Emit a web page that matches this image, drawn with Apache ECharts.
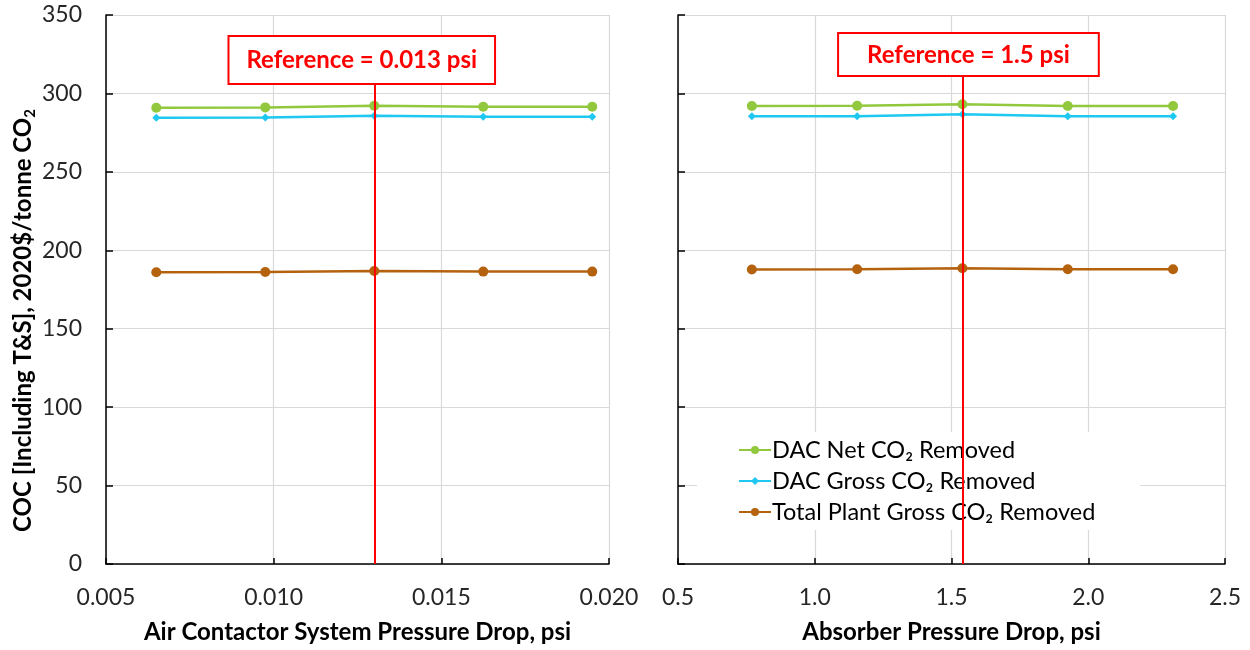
<!DOCTYPE html>
<html>
<head>
<meta charset="utf-8">
<script src="https://cdn.jsdelivr.net/npm/echarts@6/dist/echarts.min.js"></script>
<style>
  html, body { margin: 0; padding: 0; background: #fff; }
  #chart { width: 1250px; height: 650px; }
</style>
</head>
<body>
<div id="chart"></div>
<script>
// Sensitivity of COC to pressure drop (air contactor vs. absorber)
const airContactorDrop = [0.0065, 0.00975, 0.013, 0.01625, 0.0195];
const absorberDrop = [0.77, 1.155, 1.54, 1.925, 2.31];

const seriesNames = ['DAC Net CO₂ Removed', 'DAC Gross CO₂ Removed', 'Total Plant Gross CO₂ Removed'];

// COC values, 2020$/tonne CO2 — air contactor panel
const airNet = [290.9, 291.1, 292.2, 291.5, 291.5];
const airGross = [284.5, 284.7, 285.8, 285.2, 285.2];
const airTotal = [186.0, 186.2, 186.8, 186.4, 186.4];

// COC values — absorber panel
const absNet = [292.0, 292.1, 293.1, 292.0, 292.0];
const absGross = [285.4, 285.5, 286.7, 285.4, 285.4];
const absTotal = [187.8, 187.9, 188.5, 187.9, 187.9];

const airReference = 0.013;
const absReference = 1.54;
const airRefLabel = 'Reference = 0.013 psi';
const absRefLabel = 'Reference = 1.5 psi';

const yTicks = [0, 50, 100, 150, 200, 250, 300, 350];

const colors = ['#92c83e', '#1ec8f0', '#b5620f'];
const symbols = ['circle', 'diamond', 'circle'];
const symbolSizes = [10, 8, 10];
const FONT = 'Lato, "Open Sans", sans-serif';

function pairs(xs, ys) { return xs.map((x, i) => [x, ys[i]]); }

// vertical reference line ending at a boxed caption
function refLine(x, top, text, offsetX, padding) {
  return {
    silent: true,
    symbol: 'none',
    lineStyle: { color: '#ff0000', width: 2, type: 'solid' },
    label: {
      show: true,
      position: 'end',
      distance: 0,
      offset: [offsetX, 0],
      formatter: text,
      color: '#ff0000',
      fontFamily: FONT,
      fontWeight: 'bold',
      fontSize: 24,
      backgroundColor: '#ffffff',
      borderColor: '#ff0000',
      borderWidth: 2,
      padding: padding
    },
    data: [[{ coord: [x, 0] }, { coord: [x, top] }]]
  };
}

function lineSeries(idx, gridIdx, xs, ys, extra) {
  const s = {
    name: seriesNames[idx],
    type: 'line',
    xAxisIndex: gridIdx,
    yAxisIndex: gridIdx,
    data: pairs(xs, ys),
    symbol: symbols[idx],
    symbolSize: symbolSizes[idx],
    showSymbol: true,
    color: colors[idx],
    lineStyle: { width: 2.5, color: colors[idx] },
    itemStyle: { color: colors[idx] },
    z: 3
  };
  return Object.assign(s, extra || {});
}

const axisLineStyle = { show: true, lineStyle: { color: '#000', width: 1.5 } };
const gridLine = { show: true, lineStyle: { color: '#d9d9d9', width: 1.2 } };

function xAxisCfg(gridIdx, min, max, interval, decimals, name) {
  return {
    type: 'value',
    gridIndex: gridIdx,
    min: min, max: max, interval: interval,
    axisLine: Object.assign({ onZero: false }, axisLineStyle),
    axisTick: { show: true, inside: true, length: 6, lineStyle: { color: '#000', width: 1.5 } },
    splitLine: gridLine,
    axisLabel: {
      formatter: v => v.toFixed(decimals),
      color: '#262626', fontSize: 23, fontFamily: FONT, margin: 22,
      showMinLabel: true, showMaxLabel: true
    },
    name: name,
    nameLocation: 'middle',
    nameGap: 56,
    nameTextStyle: { color: '#000', fontSize: 24, fontWeight: 'bold', fontFamily: FONT }
  };
}

function yAxisCfg(gridIdx, showLabels) {
  return {
    type: 'value',
    gridIndex: gridIdx,
    min: yTicks[0], max: yTicks[yTicks.length - 1], interval: yTicks[1] - yTicks[0],
    axisLine: axisLineStyle,
    axisTick: { show: true, inside: true, length: 7, lineStyle: { color: '#000', width: 1.5 } },
    splitLine: gridLine,
    axisLabel: {
      show: showLabels,
      color: '#262626', fontSize: 23, fontFamily: FONT, margin: 24
    },
    name: showLabels ? '{b|COC [Including T&S], 2020$/tonne CO}{s|2}' : '',
    nameLocation: 'middle',
    nameGap: 68,
    nameTextStyle: {
      color: '#000', fontSize: 24, fontWeight: 'bold', fontFamily: FONT,
      padding: [0, 62, 0, 0],
      rich: {
        b: { fontSize: 24, fontWeight: 'bold', fontFamily: FONT, color: '#000', lineHeight: 30 },
        s: { fontSize: 15, fontWeight: 'bold', fontFamily: FONT, color: '#000', lineHeight: 30, verticalAlign: 'bottom' }
      }
    }
  };
}

const chart = echarts.init(document.getElementById('chart'), null, { renderer: 'canvas' });

chart.setOption({
  animation: false,
  backgroundColor: '#ffffff',
  textStyle: { fontFamily: FONT },
  grid: [
    { left: 106, right: 641, top: 15, bottom: 86 },
    { left: 678, right: 25, top: 15, bottom: 86 }
  ],
  xAxis: [
    xAxisCfg(0, 0.005, 0.020, 0.005, 3, 'Air Contactor System Pressure Drop, psi'),
    xAxisCfg(1, 0.5, 2.5, 0.5, 1, 'Absorber Pressure Drop, psi')
  ],
  yAxis: [yAxisCfg(0, true), yAxisCfg(1, false)],
  legend: {
    data: seriesNames,
    orient: 'vertical',
    left: 697,
    top: 432,
    itemWidth: 32,
    itemHeight: 10,
    itemGap: 7,
    backgroundColor: '#ffffff',
    padding: [6, 45, 6, 41],
    textStyle: { fontSize: 23.5, color: '#000', fontFamily: FONT, padding: [0, 0, 0, -4] }
  },
  series: [
    lineSeries(0, 0, airContactorDrop, airNet, { markLine: refLine(airReference, 306.6, airRefLabel, -12.5, [11, 17, 11, 17]) }),
    lineSeries(1, 0, airContactorDrop, airGross),
    lineSeries(2, 0, airContactorDrop, airTotal),
    lineSeries(0, 1, absorberDrop, absNet, { markLine: refLine(absReference, 311.7, absRefLabel, 6, [9, 28, 8, 28]) }),
    lineSeries(1, 1, absorberDrop, absGross),
    lineSeries(2, 1, absorberDrop, absTotal)
  ]
});
</script>
</body>
</html>
